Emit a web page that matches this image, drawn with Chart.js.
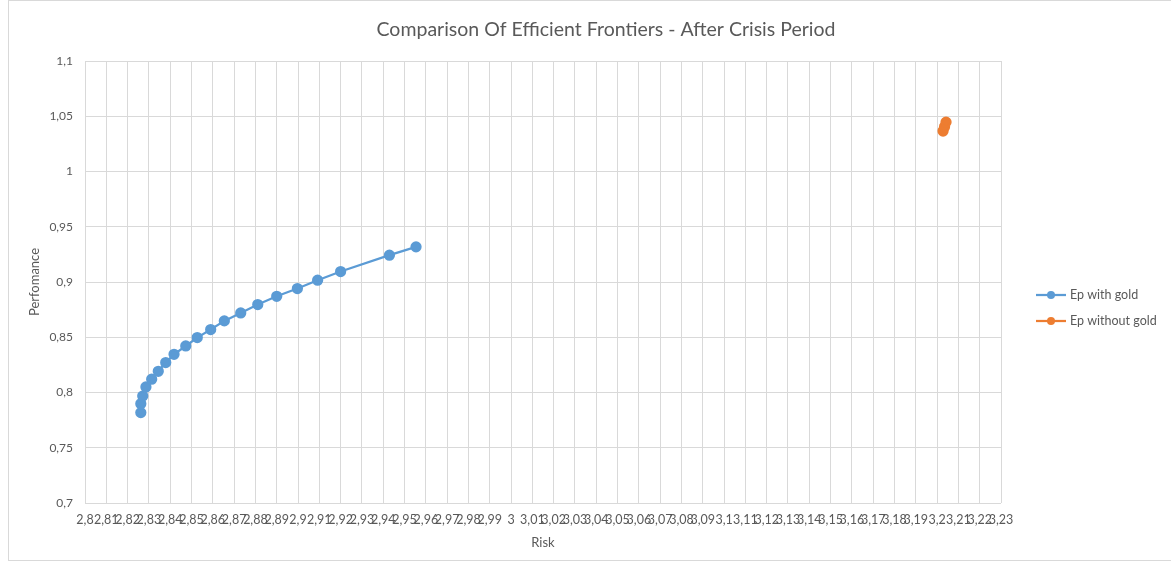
<!DOCTYPE html>
<html>
<head>
<meta charset="utf-8">
<script src="https://cdn.jsdelivr.net/npm/chart.js@4.4.0/dist/chart.umd.min.js"></script>
<style>
  html, body { margin: 0; padding: 0; background: #fff; }
  #wrap { width: 1171px; height: 567px; }
</style>
</head>
<body>
<div id="wrap"><canvas id="frontierChart"></canvas></div>
<script>
// values
const chartTitle = 'Comparison Of Efficient Frontiers - After Crisis Period';
const seriesNames = ['Ep with gold', 'Ep without gold'];
const riskWithGold = [2.8262, 2.8262, 2.8271, 2.8286, 2.8313, 2.8344, 2.8379, 2.8418, 2.8473, 2.8527,
    2.8590, 2.8654, 2.8731, 2.8811, 2.8900, 2.8997, 2.9092, 2.9200, 2.9429, 2.9554];
const perfWithGold = [0.7818, 0.7899, 0.7968, 0.8050, 0.8120, 0.8192, 0.8271, 0.8346, 0.8421, 0.8497,
    0.8570, 0.8648, 0.8720, 0.8796, 0.8871, 0.8941, 0.9016, 0.9095, 0.9243, 0.9318];
const riskWithoutGold = [3.2028, 3.2035, 3.2042];
const perfWithoutGold = [1.0366, 1.0405, 1.0447];
const xMin = 2.8, xMax = 3.23, xStep = 0.01;
const yMin = 0.7, yMax = 1.1, yStep = 0.05;

const colors = ['#5b9bd5', '#ed7d31'];
const textColor = '#595959';
const gridColor = '#d9d9d9';
const fontFamily = 'Lato, "Open Sans", sans-serif';

function toPoints(xs, ys) {
    return xs.map((x, i) => ({ x: x, y: ys[i] }));
}

function commaLabel(value) {
    return String(Number(value.toFixed(2))).replace('.', ',');
}

// title, legend and outer frame drawn by hand to sit like the original
const decorPlugin = {
    id: 'decor',
    afterDraw(chart) {
        const ctx = chart.ctx;
        ctx.save();
        ctx.strokeStyle = gridColor;
        ctx.lineWidth = 1;
        ctx.strokeRect(8.5, 0.5, 1170, 560);

        ctx.fillStyle = textColor;
        ctx.font = '19.5px ' + fontFamily;
        ctx.textAlign = 'center';
        ctx.textBaseline = 'middle';
        ctx.fillText(chartTitle, 606, 30);

        ctx.font = '12.5px ' + fontFamily;
        ctx.textAlign = 'left';
        seriesNames.forEach((name, i) => {
            const y = 295 + i * 26;
            ctx.strokeStyle = colors[i];
            ctx.lineWidth = 2.25;
            ctx.beginPath();
            ctx.moveTo(1036, y);
            ctx.lineTo(1066, y);
            ctx.stroke();
            ctx.fillStyle = colors[i];
            ctx.beginPath();
            ctx.arc(1051, y, 4, 0, Math.PI * 2);
            ctx.fill();
            ctx.fillStyle = textColor;
            ctx.fillText(name, 1070, y);
        });
        ctx.restore();
    }
};

const ctx = document.getElementById('frontierChart').getContext('2d');
new Chart(ctx, {
    type: 'scatter',
    data: {
        datasets: [{
            label: seriesNames[0],
            data: toPoints(riskWithGold, perfWithGold),
            showLine: true,
            borderColor: colors[0],
            backgroundColor: colors[0],
            borderWidth: 2.25,
            pointRadius: 4.5,
            pointHoverRadius: 4.5
        }, {
            label: seriesNames[1],
            data: toPoints(riskWithoutGold, perfWithoutGold),
            showLine: true,
            borderColor: colors[1],
            backgroundColor: colors[1],
            borderWidth: 2.25,
            pointRadius: 4.5,
            pointHoverRadius: 4.5
        }]
    },
    options: {
        responsive: true,
        maintainAspectRatio: false,
        animation: false,
        layout: { padding: { top: 61, right: 170, bottom: 8, left: 8 } },
        plugins: {
            legend: { display: false },
            title: { display: false },
            tooltip: { enabled: false }
        },
        scales: {
            x: {
                type: 'linear',
                min: xMin,
                max: xMax,
                border: { display: false },
                grid: { color: gridColor, drawTicks: false },
                ticks: {
                    stepSize: xStep,
                    autoSkip: false,
                    maxRotation: 0,
                    minRotation: 0,
                    padding: 9,
                    color: textColor,
                    font: { family: fontFamily, size: 12.5 },
                    callback: commaLabel
                },
                title: {
                    display: true,
                    text: 'Risk',
                    color: textColor,
                    font: { family: fontFamily, size: 13 },
                    padding: { top: 0, bottom: 8 }
                },
                afterFit(scale) { scale.height = 56; }
            },
            y: {
                min: yMin,
                max: yMax,
                border: { display: false },
                grid: { color: gridColor, drawTicks: false },
                ticks: {
                    stepSize: yStep,
                    padding: 12,
                    color: textColor,
                    font: { family: fontFamily, size: 12 },
                    callback: commaLabel
                },
                title: {
                    display: true,
                    text: 'Perfomance',
                    color: textColor,
                    font: { family: fontFamily, size: 13 },
                    padding: { top: 19, bottom: 0 }
                },
                afterFit(scale) { scale.width = 77; }
            }
        }
    },
    plugins: [decorPlugin]
});
</script>
</body>
</html>
